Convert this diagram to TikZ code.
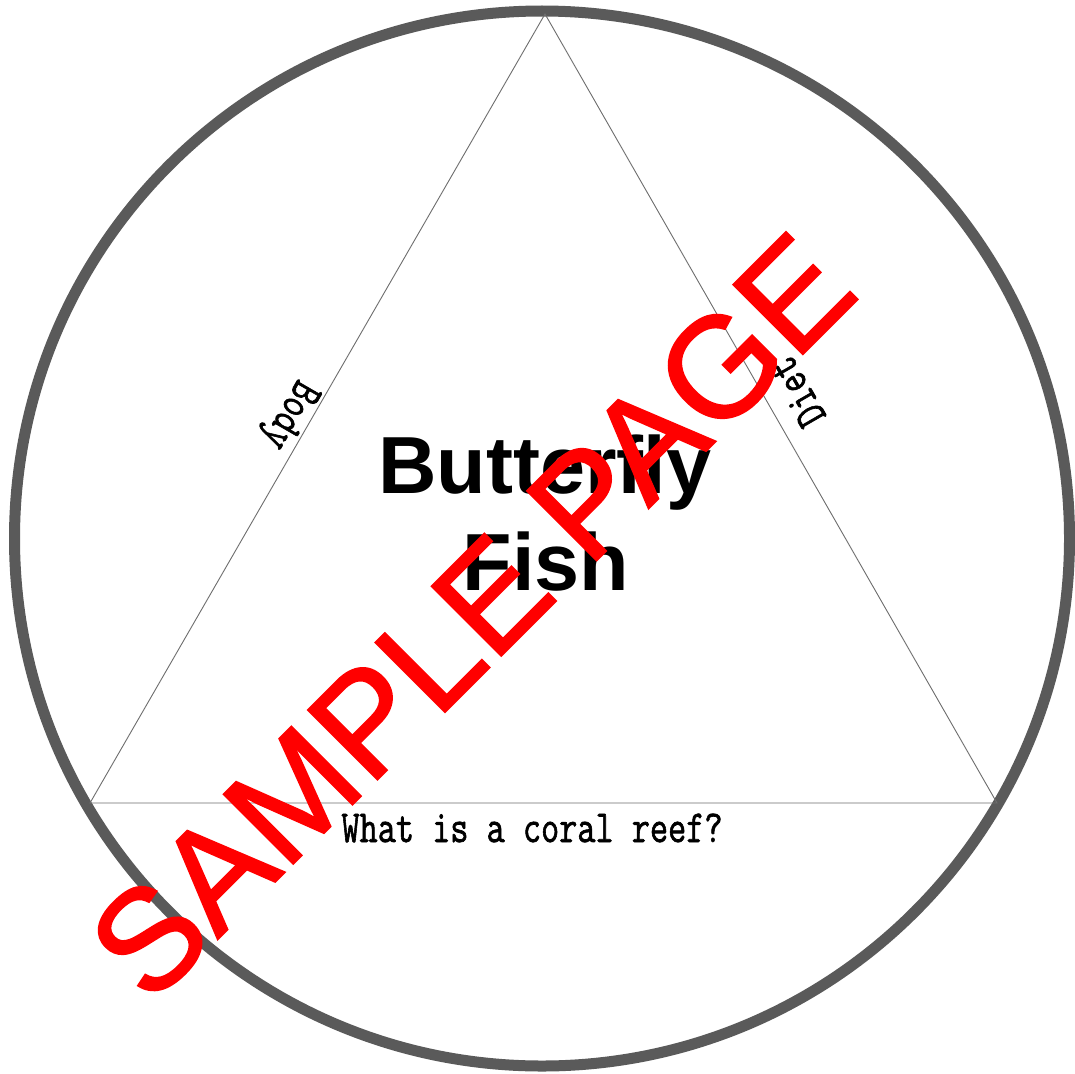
\documentclass[tikz,border=0pt]{standalone}
\usepackage{fontspec}
\newfontfamily\arialfont{Liberation Sans}
\newfontfamily\wmfont[FakeBold=1.3]{Liberation Sans}
\newfontfamily\qmono[FakeBold=1.6]{Latin Modern Mono}
\definecolor{ringgray}{RGB}{90,90,90}
\definecolor{edgegray}{RGB}{110,110,110}
\tikzset{
  ring/.style={draw=ringgray, line width=11pt},
  edge/.style={draw=edgegray, line width=0.9pt},
  edgelabel/.style={inner sep=0pt, font=\qmono\fontsize{46}{46}\selectfont},
  titlelabel/.style={inner sep=0pt, anchor=base, font=\arialfont\bfseries\fontsize{81}{97}\selectfont},
  watermark/.style={inner sep=0pt, anchor=base, text=red, font=\wmfont\fontsize{143}{143}\selectfont}
}
\begin{document}
\begin{tikzpicture}[x=1pt,y=-1pt]
\useasboundingbox (0,0) rectangle (1075,1073);
\fill[white] (0,0) rectangle (1075,1073);
% outer ring
\draw[ring] (542,538.5) circle (527.5);
% triangle vertices
\coordinate (apex) at (545,14);
\coordinate (bl) at (90,803);
\coordinate (br) at (997,803);
\draw[edge] (apex) -- (bl) -- (br) -- cycle;
% edge labels
\node[edgelabel, rotate=240] (body) at (288,414) {\scalebox{0.766}[1]{Body}};
\node[edgelabel, rotate=120] (diet) at (797,392) {\scalebox{0.766}[1]{Diet}};
\node[edgelabel, anchor=base] (question) at (532,842) {\scalebox{0.766}[1]{What is a coral reef?}};
% title
\node[titlelabel] (title1) at (545,493) {Butterfly};
\node[titlelabel] (title2) at (546,590) {Fish};
% watermark
\node[watermark, rotate=45] (sample) at (506,651) {SAMPLE PAGE};
\end{tikzpicture}
\end{document}
